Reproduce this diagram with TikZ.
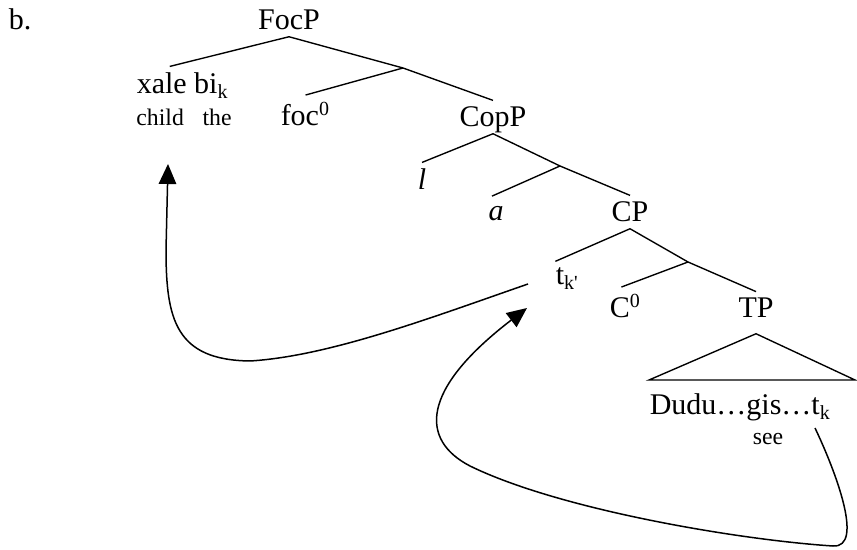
\documentclass[tikz,border=0pt]{standalone}
\usepackage{fontspec}
\setmainfont{Liberation Serif}
\usetikzlibrary{arrows.meta}
\begin{document}
\begin{tikzpicture}[x=0.4pt,y=-0.4pt,
            font=\fontsize{12}{14}\selectfont,
            lab/.style={anchor=base,inner sep=2.5pt,text depth=0pt},
            gls/.style={anchor=base,inner sep=2.5pt,font=\fontsize{9.5}{11}\selectfont},
            br/.style={line width=0.55pt},
            mv/.style={line width=0.6pt,-{Triangle[length=8pt,width=7pt]}},
        ]
    \useasboundingbox (0,0) rectangle (857,550);
    \node[lab,anchor=base west] (ex) at (2,30) {b.};

    \node[lab] (focp) at (289,30) {FocP};
    \node[lab,anchor=base west] (xale) at (130,94) {xale bi\textsubscript{k}};
    \node[gls] (gloss) at (184,126) {child\hspace{7.5pt}the};
    \coordinate (focbar) at (403,68);
    \node[lab,anchor=base west] (foc) at (274,126) {foc\textsuperscript{0}};
    \node[lab] (copp) at (493,127) {CopP};
    \draw[br] (focp.south) -- ([shift={(-13,0)}]xale.north);
    \draw[br] (focp.south) -- (focbar);
    \draw[br] (focbar) -- (foc.north);
    \draw[br] (focbar) -- (copp.north);

    \node[lab] (l) at (422,190) {\textit{l}};
    \coordinate (copbar) at (560,166);
    \node[lab] (a) at (496,221) {\textit{a}};
    \node[lab] (cp) at (630,222) {CP};
    \draw[br] (copp.south) -- (l.north);
    \draw[br] (copp.south) -- (copbar);
    \draw[br] (copbar) -- ([shift={(-4,-4)}]a.north);
    \draw[br] (copbar) -- (cp.north);

    \node[lab,anchor=base west] (tk) at (549,285) {t\textsubscript{k\textquotesingle}};
    \coordinate (cbar) at (688,262);
    \node[lab,anchor=base west] (c0) at (603,318) {C\textsuperscript{0}};
    \node[lab] (tp) at (756,318) {TP};
    \draw[br] (cp.south) -- ([shift={(-12,0)}]tk.north);
    \draw[br] (cp.south) -- (cbar);
    \draw[br] (cbar) -- ([shift={(-4,0)}]c0.north);
    \draw[br] (cbar) -- (tp.north);

    \coordinate (tpa) at ([shift={(0,9)}]tp.south);
    \coordinate (tpl) at (649,380);
    \coordinate (tpr) at (855,380);
    \draw[br] (tpa) -- (tpl) -- (tpr) -- cycle;
    \node[lab,anchor=base west] (dudu) at (643,415) {Dudu…gis…t\textsubscript{k}};
    \node[gls] (see) at (768,445) {see};

    \coordinate (tkout) at (528,284);
    \coordinate (xalein) at (168,164);
    \draw[mv] (tkout) .. controls (430,318) and (330,356) .. (250,361)
        .. controls (176,360) and (166,320) .. (166,250) -- (xalein);

    \coordinate (tkbase) at (815,428);
    \coordinate (tkland) at (527,308);
    \draw[mv] (tkbase) .. controls (835,470) and (865,548) .. (833,546)
        .. controls (740,540) and (560,510) .. (470,466)
        .. controls (420,440) and (420,390) .. (tkland);
\end{tikzpicture}
\end{document}
